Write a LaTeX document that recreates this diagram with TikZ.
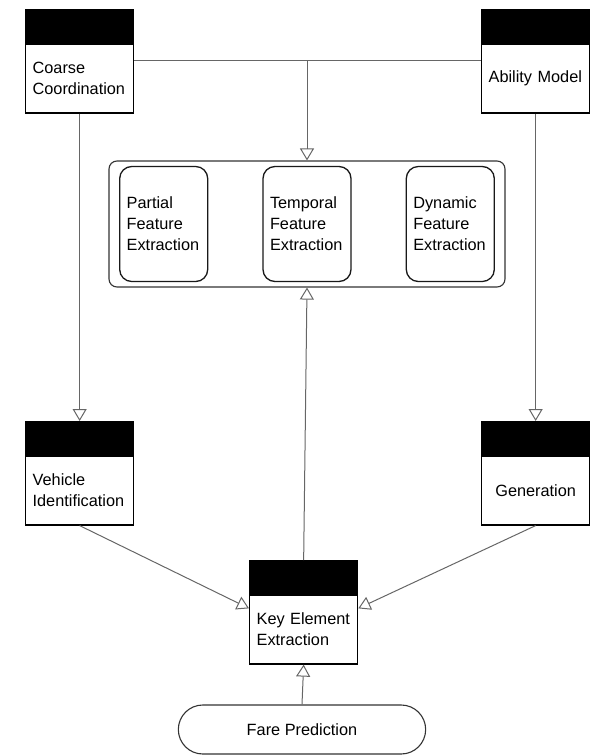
\documentclass[tikz,border=0pt]{standalone}
\usepackage{fontspec}
\setmainfont{Liberation Sans}
\usetikzlibrary{positioning,arrows.meta,shapes.misc,calc}

\begin{document}
\begin{tikzpicture}[x=1pt,y=-1pt,
    txt/.style={font=\fontsize{16.3}{21}\selectfont},
    hd/.style={draw=black,line width=1.3pt,fill=black,minimum width=108pt,
      minimum height=33pt,inner sep=0pt,anchor=north west},
    bd/.style={txt,draw=black,line width=1.3pt,fill=white,minimum width=108pt,
      minimum height=69pt,text width=94pt,align=left,inner sep=0pt,below=0pt of #1},
    fx/.style={txt,draw=black!90,line width=1.3pt,rounded corners=12pt,minimum width=88pt,
      minimum height=115pt,text width=74pt,align=left,inner sep=0pt},
    wire/.style={draw=black!60,line width=1pt},
    lnk/.style={wire,-{Triangle[open,width=14pt,length=12pt]}}]
 \useasboundingbox (0,0) rectangle (605,756);
 % top row
 \node[hd] (coarse-hd) at (25,9) {};
 \node[bd=coarse-hd] (coarse-bd) {Coarse\\Coordination};
 \node[hd] (ability-hd) at (481,9) {};
 \node[bd=ability-hd] (ability-bd) {Ability Model};
 % feature extraction group
 \node[draw=black!80,line width=1.1pt,rounded corners=8pt,minimum width=396pt,
   minimum height=126pt] (feat) at (307,224) {};
 \node[fx] (temporal) at (feat.center) {Temporal\\Feature\\Extraction};
 \node[fx,left=54pt of temporal] (partial) {Partial\\Feature\\Extraction};
 \node[fx,right=54pt of temporal] (dynamic) {Dynamic\\Feature\\Extraction};
 % middle row
 \node[hd] (vehicle-hd) at (25,421) {};
 \node[bd=vehicle-hd] (vehicle-bd) {Vehicle\\Identification};
 \node[hd] (gen-hd) at (481,421) {};
 \node[bd=gen-hd,align=center] (gen-bd) {Generation};
 % bottom
 \node[hd] (key-hd) at (249,560) {};
 \node[bd=key-hd] (key-bd) {Key Element\\Extraction};
 \node[txt,draw=black!80,line width=1.1pt,rounded rectangle,minimum width=254pt,
   minimum height=49pt] (fare) at (302,729.5) {Fare Prediction};
 % connectors
 \coordinate (tee) at (307,60);
 \path[wire] (coarse-bd.east |- tee) -- (ability-bd.west |- tee);
 \draw[lnk] (tee) -- (feat.north);
 \draw[lnk] (coarse-bd.south) -- (vehicle-hd.north);
 \draw[lnk] (ability-bd.south) -- (gen-hd.north);
 \coordinate (key-l) at ($(key-bd.north west)!0.2!(key-bd.south west)$);
 \coordinate (key-r) at ($(key-bd.north east)!0.2!(key-bd.south east)$);
 \draw[lnk] (vehicle-bd.south) -- (key-l);
 \draw[lnk] (gen-bd.south) -- (key-r);
 \draw[lnk] (key-hd.north) -- (feat.south);
 \draw[lnk] (fare.north) -- (key-bd.south);
\end{tikzpicture}
\end{document}
